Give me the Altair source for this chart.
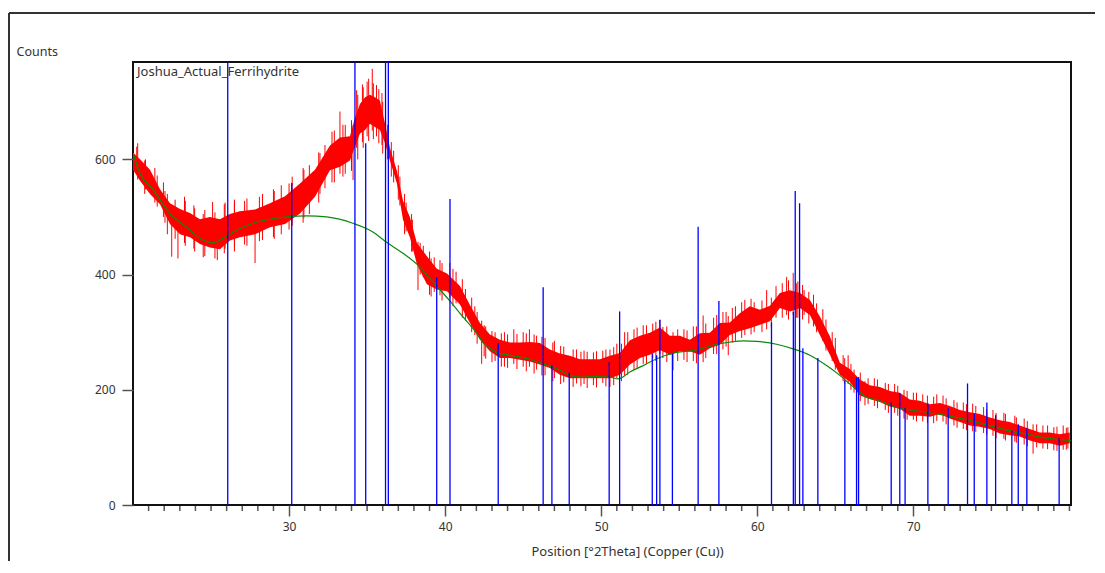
import altair as alt
import pandas as pd

# ---- red measured pattern: band envelope (upper / lower) ----
band_pos = [20.0, 20.45, 21.09, 21.73, 22.37, 23.01, 23.65, 24.29, 24.93, 25.57,
            26.21, 26.85, 27.82, 28.78, 29.74, 30.70, 31.66, 32.62, 33.26, 33.90,
            34.22, 34.54, 34.87, 35.18, 35.50, 35.82, 36.15, 36.46, 36.91, 37.30,
            37.74, 38.19, 38.83, 39.47, 40.12, 40.95, 41.59, 42.23, 42.87, 43.51,
            44.15, 44.79, 45.43, 46.07, 46.71, 47.35, 47.99, 48.64, 49.28, 49.92,
            50.56, 51.20, 51.84, 52.48, 53.12, 53.76, 54.40, 55.04, 55.68, 56.32,
            56.96, 57.60, 58.24, 58.88, 59.52, 60.17, 60.81, 61.45, 62.09, 62.73,
            63.37, 64.01, 64.65, 65.29, 65.93, 66.57, 67.21, 67.85, 68.49, 69.13,
            69.77, 70.41, 71.06, 71.70, 72.34, 72.98, 73.62, 74.26, 74.90, 75.54,
            76.18, 76.82, 77.46, 78.10, 78.74, 79.38, 80.02]
band_hi = [612, 600, 582, 548, 524, 514, 507, 496, 500, 496,
           505, 510, 513, 524, 536, 558, 582, 624, 638, 640,
           672, 696, 708, 712, 708, 702, 662, 620, 580, 528,
           500, 455, 432, 410, 402, 380, 347, 316, 296, 287,
           282, 282, 283, 281, 270, 263, 259, 253, 253, 253,
           259, 264, 286, 294, 299, 308, 294, 294, 287, 298,
           299, 316, 317, 333, 345, 339, 346, 368, 373, 368,
           356, 327, 293, 247, 236, 218, 208, 205, 198, 195,
           183, 181, 175, 177, 172, 165, 161, 158, 152, 147,
           144, 138, 132, 126, 126, 123, 126]
band_lo = [582, 563, 540, 522, 488, 470, 465, 453, 447, 444,
           459, 465, 470, 482, 488, 506, 535, 581, 587, 598,
           622, 645, 651, 662, 656, 651, 628, 598, 558, 495,
           465, 418, 383, 374, 371, 348, 316, 287, 267, 255,
           255, 252, 249, 244, 238, 226, 220, 220, 220, 220,
           220, 226, 244, 255, 261, 269, 261, 267, 267, 261,
           272, 278, 295, 302, 307, 313, 319, 342, 336, 342,
           330, 295, 261, 226, 214, 190, 184, 179, 171, 167,
           155, 155, 153, 158, 150, 144, 138, 136, 132, 124,
           121, 119, 112, 107, 107, 103, 107]

# ---- red measured pattern: noise spikes (min / max at single positions) ----
spike_pos = [20.24, 20.8, 21.4, 21.95, 22.2, 22.48, 22.88, 23.3, 23.9, 24.5,
             25.1, 25.4, 25.9, 26.5, 27.3, 27.82, 28.3, 29.0, 29.5, 30.2,
             30.9, 31.3, 31.98, 32.3, 32.9, 33.26, 33.6, 34.1, 34.33, 34.7,
             35.0, 35.33, 35.6, 35.95, 36.3, 36.7, 37.1, 37.5, 37.9, 38.26,
             38.6, 39.0, 39.3, 39.67, 40.3, 40.7, 41.3, 41.9, 42.34, 42.6,
             43.2, 43.8, 44.4, 45.0, 45.4, 45.86, 46.4, 47.0, 47.6, 48.42,
             48.9, 49.5, 50.1, 50.56, 51.0, 51.5, 52.1, 52.69, 53.3, 53.76,
             53.95, 54.6, 55.3, 55.9, 56.53, 57.2, 57.8, 58.14, 58.6, 59.2,
             59.8, 60.6, 61.2, 61.88, 62.3, 62.5, 63.0, 63.6, 64.2, 64.8,
             65.5, 65.82, 66.2, 66.9, 67.5, 68.2, 68.8, 69.4, 70.0, 70.6,
             71.3, 71.9, 72.6, 73.2, 73.8, 74.5, 75.1, 75.8, 76.5, 77.1,
             77.67, 78.3, 79.0, 79.6, 79.9,
             20.3, 20.75, 21.55, 22.05, 22.7, 23.35, 23.95, 24.6, 25.25, 25.85,
             26.5, 27.15, 28.1, 29.05, 30.0, 30.95, 31.9, 32.75, 33.45, 34.0,
             34.4, 34.75, 35.1, 35.4, 35.75, 36.0, 36.55, 37.0, 37.4, 37.85,
             38.4, 39.1, 39.8, 40.5, 41.1, 41.7, 42.05, 42.5, 43.0, 43.6,
             44.0, 44.6, 45.2, 45.7, 46.2, 46.9, 47.4, 48.2, 48.7, 49.1,
             49.7, 50.3, 50.8, 51.3, 51.7, 52.3, 52.9, 53.5, 54.2, 54.9,
             55.5, 56.1, 56.7, 57.4, 58.0, 58.4, 59.0, 59.6, 60.3, 60.9,
             61.6, 62.0, 62.6, 62.9, 63.3, 63.8, 64.4, 65.0, 65.6, 66.0,
             66.6, 67.1, 67.7, 68.4, 69.0, 69.6, 70.2, 70.9, 71.5, 72.1,
             72.8, 73.4, 74.0, 74.7, 75.3, 75.9, 76.6, 77.3, 77.9, 78.6,
             79.2, 79.8]
spike_lo = [575, 548, 525, 500, 470, 431, 428, 455, 445, 430,
            450, 425, 445, 440, 450, 420, 460, 465, 470, 485,
            490, 505, 540, 550, 560, 575, 575, 564, 620, 630,
            640, 650, 640, 625, 600, 560, 520, 475, 440, 373,
            395, 365, 370, 364, 360, 350, 320, 295, 245, 254,
            250, 240, 245, 240, 240, 235, 225, 220, 213, 211,
            210, 208, 212, 205, 220, 225, 235, 245, 255, 262,
            255, 234, 252, 250, 248, 262, 270, 260, 285, 295,
            300, 305, 325, 330, 330, 325, 330, 310, 285, 250,
            215, 210, 195, 173, 172, 165, 160, 150, 148, 145,
            142, 145, 138, 132, 128, 125, 120, 115, 110, 105,
            89, 98, 95, 96, 98,
            565, 540, 518, 490, 462, 450, 440, 432, 428, 437,
            448, 452, 458, 462, 478, 498, 525, 560, 570, 580,
            600, 620, 632, 635, 628, 610, 570, 530, 470, 440,
            400, 362, 355, 345, 325, 300, 280, 258, 248, 240,
            238, 236, 232, 228, 225, 215, 210, 205, 206, 203,
            204, 206, 208, 215, 226, 238, 245, 250, 248, 250,
            248, 246, 255, 262, 275, 282, 290, 296, 300, 308,
            325, 322, 325, 322, 315, 300, 268, 235, 210, 200,
            180, 175, 168, 160, 155, 148, 145, 142, 146, 140,
            134, 130, 127, 122, 116, 112, 108, 102, 100, 97,
            94, 96]
spike_hi = [622, 600, 585, 560, 540, 500, 500, 535, 520, 505,
            526, 490, 525, 530, 532, 490, 540, 548, 555, 570,
            585, 590, 611, 625, 650, 683, 660, 660, 720, 730,
            735, 757, 729, 715, 660, 615, 570, 525, 495, 457,
            450, 440, 430, 425, 420, 405, 375, 345, 320, 310,
            300, 300, 305, 300, 305, 294, 290, 285, 275, 270,
            268, 265, 268, 270, 280, 300, 305, 312, 315, 322,
            309, 300, 305, 310, 329, 325, 335, 328, 345, 356,
            352, 373, 380, 396, 403, 385, 373, 365, 340, 300,
            260, 260, 235, 215, 220, 212, 210, 200, 195, 192,
            188, 190, 182, 178, 176, 170, 165, 160, 155, 150,
            140, 138, 135, 138, 135,
            628, 598, 572, 545, 530, 528, 515, 512, 508, 522,
            527, 528, 535, 545, 558, 582, 612, 648, 660, 668,
            712, 725, 740, 732, 722, 700, 630, 590, 540, 505,
            455, 428, 420, 410, 392, 360, 335, 312, 302, 298,
            296, 297, 298, 296, 292, 282, 276, 270, 266, 266,
            267, 270, 274, 280, 300, 308, 312, 318, 310, 305,
            303, 310, 315, 330, 335, 342, 352, 358, 355, 360,
            385, 390, 388, 382, 370, 350, 322, 290, 255, 245,
            230, 220, 218, 210, 207, 198, 195, 190, 192, 185,
            178, 175, 172, 166, 160, 158, 152, 146, 140, 138,
            136, 134]

# ---- green fitted background ----
bg_pos = [20.0, 20.45, 21.30, 22.37, 23.44, 24.48, 25.12, 25.77, 26.64, 27.69,
          28.78, 29.85, 31.13, 32.41, 34.09, 35.37, 36.25, 37.30, 38.39, 39.03,
          39.46, 40.31, 41.16, 42.02, 42.44, 43.08, 43.30, 44.36, 45.43, 46.28,
          47.14, 47.99, 48.64, 49.71, 50.56, 51.09, 51.84, 52.69, 53.55, 54.83,
          55.89, 57.60, 59.10, 59.95, 61.24, 62.30, 63.37, 64.44, 65.29, 66.14,
          67.00, 67.85, 68.70, 69.77, 70.85, 72.13, 73.41, 74.69, 75.97, 77.25,
          78.53, 80.10]
bg_counts = [611, 576, 547, 506, 482, 460, 455, 463, 477, 489,
             496, 500, 502, 500, 489, 474, 456, 437, 413, 393,
             380, 354, 326, 298, 282, 268, 265, 259, 253, 245,
             237, 225, 222, 223, 222, 219, 231, 242, 254, 265,
             268, 280, 285, 284, 279, 271, 260, 242, 225, 205,
             187, 181, 171, 165, 161, 155, 148, 139, 130, 123,
             116, 112]

# ---- blue reference sticks ----
stick_pos = [26.07, 30.17, 34.22, 34.91, 36.18, 36.36, 39.46, 40.31, 43.40, 46.28,
             46.84, 47.95, 50.51, 51.18, 53.27, 53.55, 53.76, 54.56, 56.21, 57.54,
             60.91, 62.31, 62.43, 62.71, 62.92, 63.88, 65.61, 66.36, 66.49, 68.58,
             69.13, 69.47, 70.93, 72.23, 73.47, 73.90, 74.71, 75.27, 76.31, 76.72,
             77.27, 79.34]
stick_counts = [1000, 559, 1000, 628, 1000, 1000, 396, 531, 281, 378,
                242, 230, 248, 336, 262, 260, 321, 263, 483, 354,
                317, 335, 545, 524, 272, 255, 216, 222, 222, 178,
                194, 169, 176, 168, 211, 159, 178, 156, 129, 140,
                133, 116]

x_major = [30, 40, 50, 60, 70]
x_minor = [21, 22, 23, 24, 25, 26, 27, 28, 29, 31, 32, 33, 34, 35, 36, 37, 38, 39,
           41, 42, 43, 44, 45, 46, 47, 48, 49, 51, 52, 53, 54, 55, 56, 57, 58, 59,
           61, 62, 63, 64, 65, 66, 67, 68, 69, 71, 72, 73, 74, 75, 76, 77, 78, 79, 80]
y_major = [0, 200, 400, 600]
series_label = ["Joshua_Actual_Ferrihydrite"]

FONT = "Noto Sans"
TXT = "#333333"

band_df = pd.DataFrame({"pos": band_pos, "hi": band_hi, "lo": band_lo})
spike_df = pd.DataFrame({"pos": spike_pos, "lo": spike_lo, "hi": spike_hi})
bg_df = pd.DataFrame({"pos": bg_pos, "hi": bg_counts})
stick_df = pd.DataFrame({"pos": stick_pos, "hi": stick_counts})
minor_df = pd.DataFrame({"pos": x_minor})
label_df = pd.DataFrame({"label": series_label})
one_df = pd.DataFrame({"a": [0]})

xs = alt.Scale(domain=[20, 80.1], nice=False, zero=False)
ys = alt.Scale(domain=[0, 769], nice=False, zero=False)

x_axis = alt.Axis(values=x_major, tickSize=11, tickColor="#555555", tickWidth=1.5,
                  labelPadding=5, labelFontSize=12, labelColor=TXT, labelFont=FONT,
                  domain=False, grid=False,
                  title="Position [°2Theta] (Copper (Cu))", titleX=494, titleY=46,
                  titleBaseline="middle", titleAlign="center", titleFontWeight="normal",
                  titleFontSize=13, titleFont=FONT, titleColor=TXT)
y_axis = alt.Axis(values=y_major, tickSize=11, tickColor="#555555", tickWidth=1.5,
                  labelPadding=7, labelFontSize=12, labelColor=TXT, labelFont=FONT,
                  domain=False, grid=False,
                  title="Counts", titleAngle=0, titleX=-117, titleY=-11,
                  titleAlign="left", titleBaseline="middle", titleFontWeight="normal",
                  titleFontSize=12.5, titleFont=FONT, titleColor=TXT)

X = alt.X("pos:Q", scale=xs, axis=x_axis, title="Position [°2Theta] (Copper (Cu))")
Y = alt.Y("hi:Q", scale=ys, axis=y_axis, title="Counts")

band = alt.Chart(band_df).mark_area(color="#ff0000", clip=True).encode(
    x=X, y=Y, y2="lo:Q",
)
spikes = alt.Chart(spike_df).mark_rule(color="#ff0000", strokeWidth=1, clip=True).encode(
    x=X, y=Y, y2="lo:Q",
)
background = alt.Chart(bg_df).mark_line(color="#0a8a0a", strokeWidth=1.2, clip=True,
                                        interpolate="monotone").encode(
    x=X, y=Y,
)
sticks = alt.Chart(stick_df).mark_rule(color="#0000ff", strokeWidth=1.3, clip=True).encode(
    x=X, y=Y, y2=alt.datum(0),
)
minor = alt.Chart(minor_df).mark_rule(color="#555555", strokeWidth=1.5).encode(
    x=X, y=alt.value(444), y2=alt.value(449),
)
label = alt.Chart(label_df).mark_text(align="left", baseline="middle", font=FONT,
                                      fontSize=13, color=TXT).encode(
    x=alt.value(4), y=alt.value(10), text="label:N"
)
frame_top = alt.Chart(one_df).mark_rule(color="#333333", strokeWidth=2).encode(
    x=alt.value(-124), x2=alt.value(1000), y=alt.value(-49)
)
frame_left = alt.Chart(one_df).mark_rule(color="#333333", strokeWidth=2).encode(
    x=alt.value(-124), y=alt.value(-49), y2=alt.value(600)
)

chart = alt.layer(band, spikes, background, sticks, minor, label, frame_top, frame_left).properties(
    width=938, height=443,
    autosize=alt.AutoSizeParams(type="none"),
    padding={"left": 125, "top": 54, "right": 24, "bottom": 56},
    background="white",
).configure_view(stroke="#111111", strokeWidth=2)

chart.save("out.html", embed_options={"renderer": "svg", "actions": False})
